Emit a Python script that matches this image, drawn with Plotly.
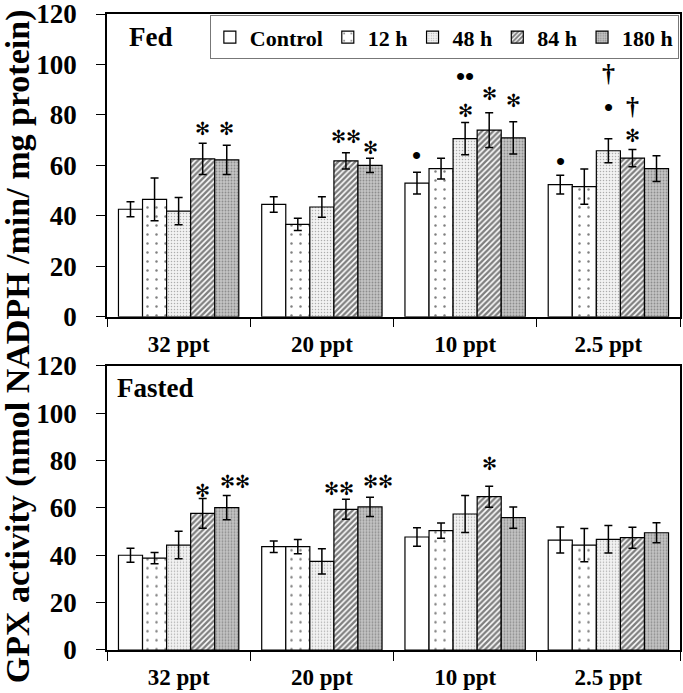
import plotly.graph_objects as go

# Categories and series
SALINITY = ['32 ppt', '20 ppt', '10 ppt', '2.5 ppt']
SERIES = ['Control', '12 h', '48 h', '84 h', '180 h']

# Fed (top panel) means and SE
FED_CONTROL = [42.6, 44.5, 53.0, 52.4]
FED_12H = [46.5, 36.6, 58.7, 51.6]
FED_48H = [41.9, 43.5, 70.6, 65.8]
FED_84H = [62.6, 61.8, 74.0, 62.9]
FED_180H = [62.2, 60.0, 70.9, 58.7]
FED_CONTROL_ERR = [3.0, 3.1, 4.3, 3.7]
FED_12H_ERR = [8.5, 2.4, 4.1, 7.0]
FED_48H_ERR = [5.4, 4.1, 6.4, 4.8]
FED_84H_ERR = [6.2, 3.2, 6.9, 3.4]
FED_180H_ERR = [5.8, 2.8, 6.4, 5.1]

# Fasted (bottom panel) means and SE
FAST_CONTROL = [40.0, 43.6, 47.7, 46.4]
FAST_12H = [38.8, 43.6, 50.4, 44.3]
FAST_48H = [44.3, 37.4, 57.4, 46.7]
FAST_84H = [57.7, 59.4, 64.7, 47.4]
FAST_180H = [60.1, 60.4, 55.9, 49.5]
FAST_CONTROL_ERR = [3.0, 2.4, 3.9, 5.5]
FAST_12H_ERR = [2.4, 3.0, 3.2, 7.0]
FAST_48H_ERR = [5.8, 5.3, 7.8, 5.8]
FAST_84H_ERR = [6.3, 4.2, 4.4, 4.4]
FAST_180H_ERR = [5.1, 4.1, 4.5, 4.2]

# Significance marks: (category, series index, y value, symbol)
FED_MARKS = [
    ('32 ppt', 3, 74.8, '*'), ('32 ppt', 4, 74.8, '*'),
    ('20 ppt', 3, 71.5, '**'), ('20 ppt', 4, 67.2, '*'),
    ('10 ppt', 0, 64.1, '•'), ('10 ppt', 2, 95.2, '••'), ('10 ppt', 2, 81.8, '*'),
    ('10 ppt', 3, 88.6, '*'), ('10 ppt', 4, 85.7, '*'),
    ('2.5 ppt', 0, 61.7, '•'), ('2.5 ppt', 2, 96.5, '†'), ('2.5 ppt', 2, 83.0, '•'),
    ('2.5 ppt', 3, 83.3, '†'), ('2.5 ppt', 3, 71.9, '*'),
]
FAST_MARKS = [
    ('32 ppt', 3, 67.5, '*'), ('32 ppt', 4, 71.0, '**'),
    ('20 ppt', 3, 68.0, '**'), ('20 ppt', 4, 71.0, '**'),
    ('10 ppt', 3, 78.8, '*'),
]

FONT = 'Liberation Serif'
STAR = '\u273b'  # teardrop-spoked asterisk, like the Times one in the figure

# fill styles per series
STYLES = [
    dict(color='white'),
    dict(color='white', pattern=dict(shape='.', fgcolor='black', bgcolor='white', size=9, solidity=0.06)),
    dict(color='#eeeeee', pattern=dict(shape='.', fgcolor='#666666', bgcolor='#f2f2f2', size=3, solidity=0.2)),
    dict(color='white', pattern=dict(shape='/', fgcolor='black', bgcolor='white', size=4, solidity=0.6)),
    dict(color='#b8b8b8', pattern=dict(shape='.', fgcolor='#555555', bgcolor='#c4c4c4', size=3, solidity=0.3)),
]

fed = [FED_CONTROL, FED_12H, FED_48H, FED_84H, FED_180H]
fed_err = [FED_CONTROL_ERR, FED_12H_ERR, FED_48H_ERR, FED_84H_ERR, FED_180H_ERR]
fast = [FAST_CONTROL, FAST_12H, FAST_48H, FAST_84H, FAST_180H]
fast_err = [FAST_CONTROL_ERR, FAST_12H_ERR, FAST_48H_ERR, FAST_84H_ERR, FAST_180H_ERR]

fig = go.Figure()

for i, name in enumerate(SERIES):
    for vals, errs, xa, ya, show in [(fed[i], fed_err[i], 'x', 'y', True),
                                     (fast[i], fast_err[i], 'x2', 'y2', False)]:
        fig.add_trace(go.Bar(
            name=name, x=SALINITY, y=vals, xaxis=xa, yaxis=ya,
            legendgroup=name, showlegend=show,
            marker=dict(line=dict(color='black', width=1.2), **STYLES[i]),
            error_y=dict(type='data', array=errs, color='black', thickness=1.5, width=4),
        ))

axis_common = dict(showline=True, linecolor='black', linewidth=1.5, mirror=True, automargin=False,
                   ticks='outside', ticklen=9, tickcolor='black', showgrid=False, zeroline=False,
                   ticklabeloverflow='allow')
xfont = dict(size=23, family=FONT, weight='bold', color='black')
yfont = dict(size=27, family=FONT, weight='bold', color='black')

fig.update_layout(
    width=683, height=693,
    paper_bgcolor='white', plot_bgcolor='white',
    barmode='group', bargap=0.16, bargroupgap=0,
    margin=dict(l=107, r=3, t=14, b=43),
    font=dict(family=FONT, color='black', weight='bold'),
    xaxis=dict(domain=[0, 1], anchor='y', type='category', tickson='boundaries',
               tickfont=xfont, ticklabelstandoff=6, **axis_common),
    yaxis=dict(domain=[0.524, 1], anchor='x', range=[0, 120], dtick=20,
               tickfont=yfont, ticklabelstandoff=14, **axis_common),
    xaxis2=dict(domain=[0, 1], anchor='y2', type='category', tickson='boundaries',
                tickfont=xfont, ticklabelstandoff=6, **axis_common),
    yaxis2=dict(domain=[0, 0.447], anchor='x2', range=[0, 120], dtick=20,
                tickfont=yfont, ticklabelstandoff=14, **axis_common),
    legend=dict(orientation='h', x=0.998, xanchor='right', y=0.998, yanchor='top',
                bordercolor='#777777', borderwidth=1, bgcolor='white',
                font=dict(size=22, family=FONT, weight='bold', color='black'),
                itemwidth=30, tracegroupgap=0),
)

# bar width in px for offsetting the marks
bar_px = (683 - 107 - 3) / len(SALINITY) * (1 - 0.16) / len(SERIES)

for marks, xr, yr in [(FED_MARKS, 'x', 'y'), (FAST_MARKS, 'x2', 'y2')]:
    doubles = {(c, s) for c, s, _, t in marks if t == '**'}
    for cat, si, yv, sym in marks:
        star = '*' in sym
        nudge = 0
        if sym == '**' and si == 4:
            nudge = 8
        elif sym == '**' and (cat, 4) in doubles:
            nudge = -7
        fig.add_annotation(
            x=cat, y=yv, xref=xr, yref=yr, text=sym.replace('*', STAR), showarrow=False,
            xshift=(si - 2) * bar_px + nudge,
            yanchor='middle', xanchor='center',
            font=dict(size=18, family='DejaVu Sans', color='black') if star
            else dict(size=26, family=FONT, color='black'),
        )

fig.add_annotation(text='Fed', x=0.035, y=0.924, xref='x domain', yref='y domain',
                   xanchor='left', yanchor='middle', showarrow=False,
                   font=dict(size=27, family=FONT, weight='bold', color='black'))
fig.add_annotation(text='Fasted', x=0.014, y=0.92, xref='x2 domain', yref='y2 domain',
                   xanchor='left', yanchor='middle', showarrow=False,
                   font=dict(size=27, family=FONT, weight='bold', color='black'))
fig.add_annotation(text='GPX activity (nmol NADPH /min/ mg protein)', textangle=-90,
                   x=-0.155, y=0.478, xref='paper', yref='paper',
                   xanchor='center', yanchor='middle', showarrow=False,
                   font=dict(size=34, family=FONT, weight='bold', color='black'))

# drop the default page margin so the figure sits at the window corner
fig.write_html('out.html', config={'displayModeBar': False},
               post_script="document.body.style.margin='0';")
